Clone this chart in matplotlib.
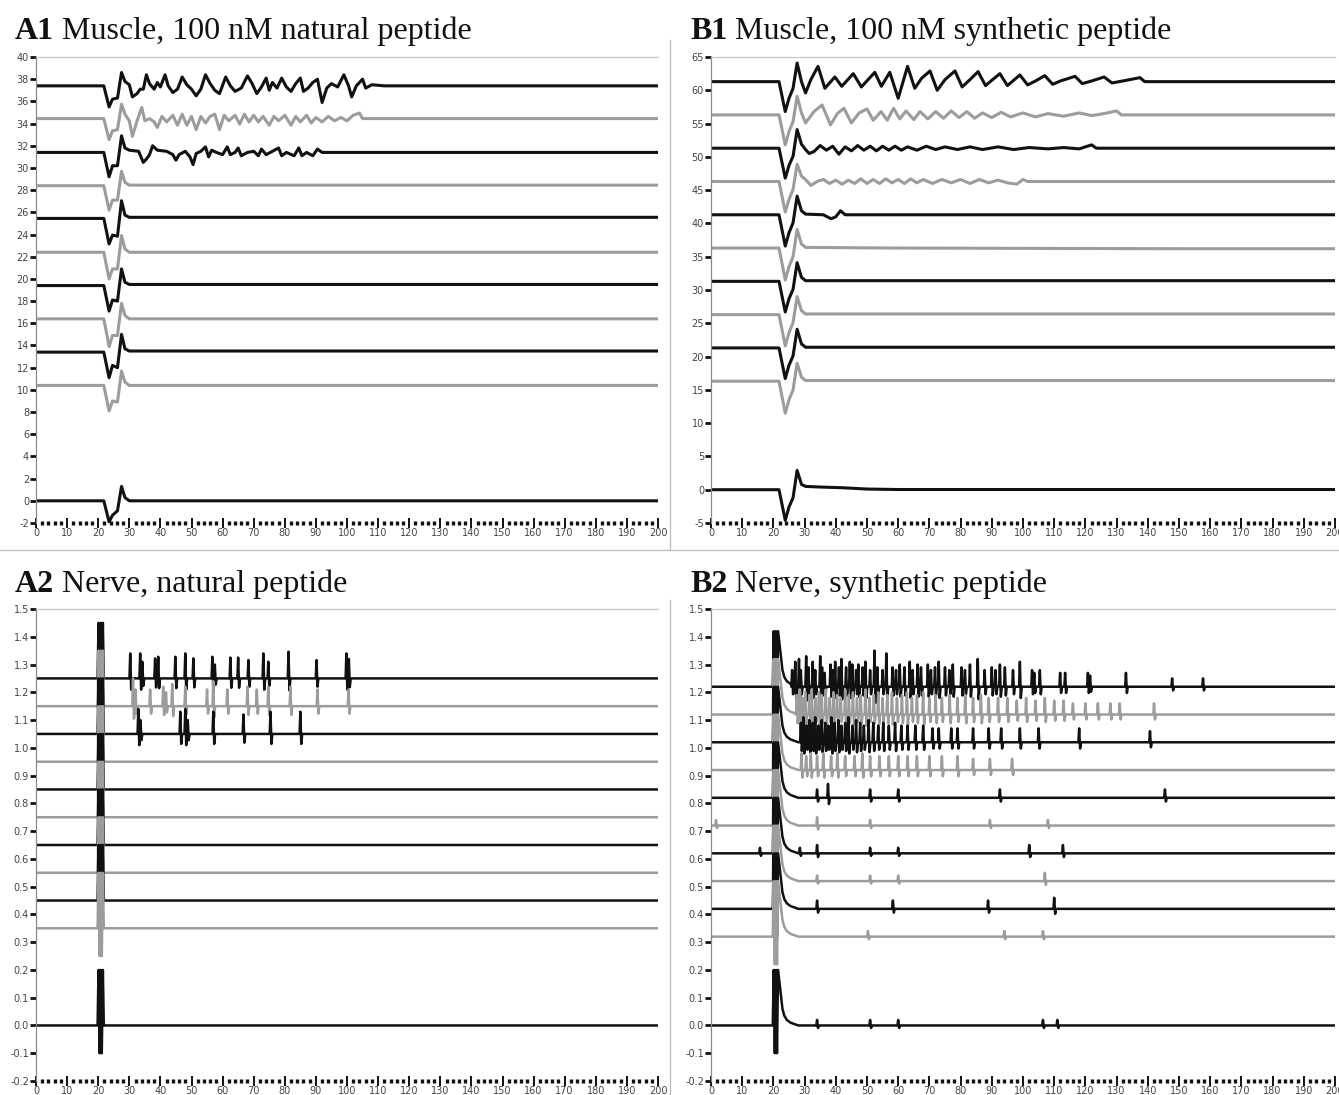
import matplotlib
matplotlib.use('Agg')
import matplotlib.pyplot as plt
from matplotlib.ticker import MultipleLocator, FormatStrFormatter
from matplotlib.lines import Line2D

plt.rcParams['axes.unicode_minus'] = False
plt.rcParams['font.family'] = ['DejaVu Sans']

BLACK = '#111111'
GREY = '#9c9c9c'

# ---------------- A1: muscle, natural peptide ----------------
a1_base = [37.4, 34.45, 31.4, 28.4, 25.45, 22.4, 19.4, 16.4, 13.4, 10.4, 0.0]
a1_evoked_t = [21.8, 23.5, 24.6, 26.2, 27.5, 28.6, 30.0]
a1_evoked = [
    [0, -1.9, -1.2, -1.1, 1.2, 0.4, 0.1],
    [0, -1.9, -1.1, -1.0, 1.3, 0.4, -0.2],
    [0, -2.2, -1.2, -1.2, 1.5, 0.4, 0.2],
    [0, -2.2, -1.3, -1.3, 1.3, 0.3, 0.05],
    [0, -2.3, -1.5, -1.6, 1.6, 0.3, 0.1],
    [0, -2.4, -1.5, -1.5, 1.5, 0.3, 0.0],
    [0, -2.3, -1.3, -1.4, 1.5, 0.3, 0.1],
    [0, -2.5, -1.5, -1.5, 1.4, 0.3, 0.0],
    [0, -2.3, -1.2, -1.4, 1.6, 0.3, 0.1],
    [0, -2.3, -1.4, -1.5, 1.3, 0.3, 0.0],
    [0, -1.9, -1.3, -0.9, 1.3, 0.3, 0.0],
]
a1_tail = [
    [(31, -1.0), (32.5, -0.7), (33.5, -0.3), (34.5, -0.3), (35.5, 1.0), (36.5, 0.2), (38, -0.3),
     (39, 0.3), (40, -0.1), (41.5, 1.0), (42.5, 0), (44, -0.6), (45.5, -0.3), (47, 0.8), (48.5, 0.1),
     (50, -0.3), (51.5, -0.9), (53, -0.3), (54.5, 1.0), (56, 0.2), (57.5, -0.4), (59, -0.7), (61, 0.8),
     (62.5, 0), (64, -0.5), (66, -0.2), (68, 0.9), (69.5, 0.2), (71, -0.7), (72.5, -0.1), (74, 0.7),
     (75, -0.4), (76, 0.3), (77.5, -0.2), (79, 0.7), (80.5, -0.1), (82, -0.5), (83.5, 0.2), (85, 0.7),
     (86, -0.5), (87.5, -0.2), (89, 0.3), (90.5, 0.6), (92, -1.5), (93.5, -0.2), (95, 0.2), (97, -0.1),
     (99, 1.0), (100.5, 0), (101.5, -1.0), (103, 0), (105, 0.6), (106, -0.2), (108, 0.1), (112, 0)],
    [(31, -1.6), (32.5, -0.2), (34, 1.0), (35, -0.2), (36.5, 0), (38, -0.3), (39, -0.8), (40.5, 0.2),
     (42, -0.3), (44, 0.3), (45.5, -0.6), (47, 0.4), (48.5, -0.6), (50, 0.2), (51.5, -1.0), (53, 0.2),
     (54.5, -0.4), (56, 0.2), (57.5, 0.4), (59, -1.0), (60.5, 0.3), (62, -0.2), (64, 0.3), (65.5, -0.5),
     (67, 0.4), (68.5, -0.3), (70, 0.3), (71.5, -0.3), (73, 0.2), (75, -0.6), (76.5, 0.2), (78, -0.2),
     (80, 0.3), (82, -0.6), (83.5, 0.2), (85, -0.3), (87, 0.3), (88.5, -0.4), (90, 0.1), (92, -0.3),
     (94, 0.2), (96, -0.2), (98, 0.1), (100, -0.2), (102, 0.3), (104, 0.5), (105, 0), (110, 0)],
    [(33, 0.1), (34.5, -0.9), (35.5, -0.6), (36.5, -0.2), (37.5, 0.6), (39, 0.2), (42, 0.1), (44, -0.2),
     (45, -0.7), (46, -0.2), (48, 0.1), (49.5, -0.4), (50.5, -1.1), (51.5, -0.1), (53, 0.1), (54.5, 0.5),
     (55.5, -0.4), (56.5, 0.2), (58, 0), (60, -0.2), (61.5, 0.5), (62.5, -0.2), (64, 0), (65, 0.4),
     (66, -0.3), (68, 0), (70, 0.1), (71.5, -0.3), (72.5, 0.3), (74, -0.2), (76, 0.1), (78, 0.4),
     (79, -0.3), (80.5, 0), (83, -0.3), (84.5, 0.4), (85.5, -0.3), (87, 0), (89, -0.3), (90.5, 0.3),
     (92, 0)],
    [], [], [], [], [], [], [], [],
]

# ---------------- B1: muscle, synthetic peptide ----------------
b1_base = [61.3, 56.3, 51.3, 46.3, 41.3, 36.3, 31.3, 26.3, 21.3, 16.3, 0.0]
b1_evoked_t = [21.8, 23.8, 25.0, 26.3, 27.6, 29.0, 30.3]
b1_evoked = [
    [0, -4.5, -2.5, -1.0, 2.8, 0.0, -1.7],
    [0, -4.5, -2.5, -1.0, 2.8, 0.3, -1.2],
    [0, -4.5, -2.6, -1.2, 2.8, 0.6, -0.2],
    [0, -4.6, -2.7, -1.2, 2.6, 0.8, 0.3],
    [0, -4.7, -2.7, -1.2, 2.8, 0.6, 0.1],
    [0, -4.8, -2.8, -1.3, 2.8, 0.6, 0.1],
    [0, -4.6, -2.6, -1.2, 2.8, 0.6, 0.1],
    [0, -4.7, -2.7, -1.2, 2.7, 0.6, 0.1],
    [0, -4.6, -2.6, -1.2, 2.8, 0.6, 0.1],
    [0, -4.8, -2.8, -1.3, 2.7, 0.6, 0.1],
    [0, -4.6, -2.6, -1.2, 2.9, 0.8, 0.5],
]
b1_tail = [
    [(32, 0.3), (34.3, 2.3), (36.5, -1.0), (39.7, 0.7), (41.9, -0.7), (45.6, 1.2), (48.2, -0.8),
     (52.5, 1.4), (54.6, -0.7), (57.3, 1.4), (60, -2.5), (63, 2.3), (65.3, -1.0), (67.5, 0.5),
     (70.2, 1.6), (72.5, -1.3), (75, 0.3), (78.2, 1.6), (80.5, -0.8), (83, 0.3), (85.6, 1.5),
     (88, -0.6), (90, 0.2), (92.6, 1.2), (95, -0.6), (97, 0.2), (99, 1.0), (101.5, -0.5), (104, 0.1),
     (107, 0.9), (109.5, -0.4), (112, 0.1), (116.7, 0.8), (119, -0.3), (122, 0.1), (126, 0.7),
     (128.5, -0.2), (132, 0.1), (137.5, 0.6), (139, 0), (145, 0)],
    [(33, 0.5), (35.6, 1.5), (38.3, -1.5), (40.5, 0.2), (42.6, 1.0), (45, -1.2), (47.5, 0.3),
     (50, 0.9), (52, -0.8), (54.5, 0.5), (56.5, -0.8), (58.5, 1.0), (60.5, -0.6), (62.5, 0.6),
     (65, -0.7), (67, 0.5), (69.5, -0.6), (72, 0.5), (74.5, -0.5), (77, 0.6), (79.5, -0.4),
     (82, 0.5), (84.5, -0.5), (87, 0.3), (90, -0.4), (93, 0.4), (96, -0.3), (100, 0.3),
     (104, -0.3), (108, 0.2), (113, -0.2), (118, 0.3), (122, -0.1), (126, 0.2), (130, 0.6),
     (131.5, 0), (140, 0)],
    [(31.5, -0.8), (33, -0.5), (35, 0.4), (37, -0.3), (39, 0.3), (41, -0.9), (43, 0.2), (45, -0.4),
     (47, 0.4), (49, -0.3), (51, 0.3), (53, -0.4), (55, 0.3), (57, -0.3), (59, 0.3), (61, -0.3),
     (63, 0.2), (66, -0.3), (69, 0.3), (72, -0.2), (75, 0.2), (79, -0.2), (83, 0.2), (87, -0.2),
     (92, 0.2), (97, -0.2), (102, 0.1), (108, -0.1), (113, 0.1), (118, -0.1), (122, 0.5),
     (123.5, 0), (130, 0)],
    [(32, -0.6), (34, 0.0), (36, 0.3), (38, -0.3), (40, 0.2), (42, -0.4), (44, 0.2), (46, -0.3),
     (48, 0.4), (50, -0.3), (52, 0.3), (54, -0.3), (56, 0.4), (58, -0.2), (60, 0.3), (62, -0.3),
     (64, 0.4), (66, -0.2), (68, 0.3), (71, -0.3), (74, 0.3), (77, -0.2), (80, 0.3), (83, -0.3),
     (86, 0.3), (89, -0.2), (92, 0.2), (95, -0.2), (98, -0.4), (100, 0.3), (101.5, 0), (110, 0)],
    [(36, 0), (38.5, -0.6), (40, -0.3), (41.5, 0.6), (43, 0), (50, 0)],
    [(60, 0), (150, -0.1)],
    [], [], [], [],
    [(35, 0.4), (42, 0.3), (50, 0.1), (60, 0.03)],
]

# ---------------- A2: nerve, natural peptide ----------------
a2_base = [1.25, 1.15, 1.05, 0.95, 0.85, 0.75, 0.65, 0.55, 0.45, 0.35, 0.0]
a2_spikes = [
    [(30.3, .09), (33.5, .09), (34.2, .06), (38.3, .072), (39.3, .078), (44.8, .078), (48, .09),
     (50.6, .072), (56.7, .078), (57.5, .05), (62.5, .075), (65, .075), (68.3, .066), (73.1, .09),
     (74.7, .06), (81.2, .096), (90.2, .066), (99.8, .09), (100.6, .07)],
    [(31.2, .1), (32.0, .06), (36.7, .06), (40.9, .07), (41.8, .05), (43.8, .08), (48, .07),
     (55, .06), (57, .09), (61.5, .06), (68, .07), (71, .06), (74.7, .07), (81.8, .07),
     (90.5, .06), (100.5, .06)],
    [(32.9, .09), (33.6, .05), (46.4, .08), (48, .09), (48.8, .05), (57, .08), (66.7, .07),
     (75.4, .08), (85, .08)],
    [], [], [], [], [], [], [], [],
]

# ---------------- B2: nerve, synthetic peptide ----------------
b2_base = [1.22, 1.12, 1.02, 0.92, 0.82, 0.72, 0.62, 0.52, 0.42, 0.32, 0.0]
b2_spikes = [
    [(26.0, .06), (27.0, .09), (28.2, .10), (28.8, .06), (30.5, .11), (31.2, .07), (32.6, .09),
     (33.4, .06), (35.0, .11), (35.6, .07), (36.4, .05), (38.3, .08), (39.0, .06), (39.8, .09),
     (41.0, .07), (41.8, .10), (43.3, .07), (44.5, .09), (45.3, .08), (46.5, .06), (47.2, .08),
     (48.6, .07), (49.5, .09), (51.0, .06), (52.4, .13), (53.3, .07), (55.0, .06), (56.2, .12),
     (58.2, .07), (59.3, .06), (60.5, .08), (62.0, .07), (63.7, .09), (64.6, .06), (66.2, .08),
     (67.3, .07), (69.5, .08), (70.5, .06), (71.8, .07), (73.0, .09), (75.0, .07), (76.4, .06),
     (77.5, .08), (80.3, .07), (81.4, .06), (83.0, .08), (85.5, .10), (87.7, .06), (90.0, .07),
     (91.2, .06), (92.6, .08), (94.2, .07), (96.8, .06), (99.0, .09), (102.9, .06), (103.6, .05),
     (105.4, .06), (111.9, .05), (113.5, .05), (120.8, .05), (121.5, .04), (133.0, .05),
     (147.8, .03), (157.7, .03)],
    [(27.5, .07), (28.5, .09), (29.3, .06), (30.2, .08), (31.5, .07), (32.3, .09), (33.5, .06),
     (34.6, .08), (35.5, .07), (36.8, .09), (38.0, .06), (39.2, .08), (40.4, .07), (41.6, .06),
     (43.0, .09), (44.2, .07), (45.5, .08), (46.8, .06), (48.0, .07), (49.5, .09), (50.8, .06),
     (52.2, .07), (53.6, .08), (55.0, .06), (56.5, .07), (58.0, .08), (59.6, .06), (61.2, .07),
     (62.8, .08), (64.4, .06), (66.0, .07), (68.0, .08), (70.0, .06), (72.0, .07), (74.0, .06),
     (76.5, .07), (79.0, .06), (81.5, .07), (84.0, .06), (86.5, .07), (89.0, .06), (92.0, .06),
     (95.0, .06), (98.0, .05), (101.0, .06), (104.0, .05), (107.0, .06), (110.0, .05), (113.0, .05),
     (116.0, .04), (120.0, .04), (124.0, .04), (128.0, .04), (131.0, .04), (142.0, .04)],
    [(28.8, .07), (29.6, .09), (30.6, .06), (31.5, .08), (32.6, .07), (33.4, .09), (34.4, .06),
     (35.5, .08), (36.6, .07), (37.6, .06), (38.6, .09), (39.6, .07), (40.8, .08), (41.8, .06),
     (43.0, .07), (44.0, .09), (45.3, .06), (46.5, .08), (47.8, .07), (49.0, .06), (50.5, .08),
     (52.0, .07), (53.6, .06), (55.2, .07), (57.0, .06), (59.0, .07), (61.0, .06), (63.0, .06),
     (65.5, .06), (68.0, .06), (71.0, .05), (73.0, .05), (77.0, .05), (79.0, .05), (84.0, .05),
     (89.0, .05), (93.0, .05), (99.0, .05), (105.0, .05), (118.0, .05), (140.7, .04)],
    [(29.0, .06), (30.5, .05), (32.0, .06), (34.0, .05), (36.0, .06), (38.5, .05), (40.5, .06),
     (43.0, .05), (46.0, .05), (48.5, .06), (51.0, .05), (54.0, .05), (57.0, .05), (60.0, .05),
     (63.0, .05), (66.0, .05), (70.0, .05), (74.0, .05), (79.0, .05), (84.0, .04), (89.4, .04),
     (96.5, .04)],
    [(34.0, .03), (37.5, .05), (51.0, .03), (60.0, .03), (92.6, .03), (145.5, .03)],
    [(1.6, .02), (34.0, .03), (51.0, .02), (89.4, .02), (108.0, .02)],
    [(15.7, .02), (28.5, .02), (34.0, .03), (51.0, .02), (60.0, .02), (102.0, .03), (112.8, .03)],
    [(34.0, .02), (51.0, .02), (60.0, .02), (107.0, .03)],
    [(34.0, .03), (58.3, .03), (88.8, .03), (110.0, .04)],
    [(50.3, .02), (94.0, .02), (106.4, .02)],
    [(34.0, .02), (51.0, .02), (60.0, .02), (106.4, .02), (111.0, .02)],
]

colors = [BLACK, GREY] * 5 + [BLACK]

# stimulus artifact of the nerve recordings (relative to baseline)
art_t = [19.8, 20.1, 20.45, 20.8, 21.15, 21.5, 21.8]
art_v = [0.0, 0.2, -0.1, 0.2, -0.1, 0.2, 0.0]
b2_decay_t = [22.3, 22.9, 23.5, 24.3, 25.5, 28.0]
b2_decay_v = [0.12, 0.06, 0.035, 0.02, 0.01, 0.0]


def muscle_trace(evoked_t, evoked_v, tail):
    t = [0] + evoked_t + [p[0] for p in tail]
    v = [0] + evoked_v + [p[1] for p in tail]
    t.append(200)
    v.append(v[-1])
    return t, v


def spike_pts(spikes):
    t, v = [], []
    for s, h in spikes:
        t += [s - 0.25, s, s + 0.3, s + 0.6]
        v += [0, h, -0.45 * h, 0]
    return t, v


def nerve_trace(spikes, decay):
    pre_t, pre_v = spike_pts([s for s in spikes if s[0] < art_t[0]])
    post_t, post_v = spike_pts([s for s in spikes if s[0] >= art_t[0]])
    t = [0] + pre_t + art_t[:-1]
    v = [0] + pre_v + art_v[:-1]
    if decay:
        t += b2_decay_t
        v += b2_decay_v
    else:
        t.append(art_t[-1])
        v.append(art_v[-1])
    return t + post_t + [200], v + post_v + [0]


def style_axes(ax, ylim, ystep, fmt):
    ax.set_xlim(0, 200)
    ax.set_ylim(*ylim)
    ax.spines['right'].set_visible(False)
    ax.spines['bottom'].set_visible(False)
    ax.spines['top'].set_color('#c8c8c8')
    ax.spines['top'].set_linewidth(0.9)
    ax.spines['left'].set_color('#8a8a8a')
    ax.spines['left'].set_linewidth(0.9)
    ax.xaxis.set_major_locator(MultipleLocator(10))
    ax.xaxis.set_minor_locator(MultipleLocator(2))
    ax.yaxis.set_major_locator(MultipleLocator(ystep))
    ax.yaxis.set_major_formatter(FormatStrFormatter(fmt))
    ax.tick_params(axis='y', direction='out', length=4, width=2, color=BLACK,
                   labelsize=7, labelcolor='#444444', pad=1)
    ax.tick_params(axis='x', which='major', direction='inout', length=7, width=1.4,
                   color=BLACK, labelsize=7, labelcolor='#444444', pad=0)
    ax.tick_params(axis='x', which='minor', direction='inout', length=3, width=2.4, color=BLACK)


def title(x, y, tag, text):
    t = fig.text(x, y, tag, fontsize=23, fontweight='bold', family='Liberation Serif',
                 va='baseline', color=BLACK)
    fig.text(0, 0, '')
    ann = plt.annotate(' ' + text, xy=(1, 0), xycoords=t, va='bottom', fontsize=23,
                       family='Liberation Serif', color=BLACK, annotation_clip=False)
    return ann


W, H = 1339, 1095
fig = plt.figure(figsize=(W / 100, H / 100), dpi=100)
axA1 = fig.add_axes([36 / W, 1 - 523 / H, 622 / W, 466 / H])
axB1 = fig.add_axes([711 / W, 1 - 523 / H, 624 / W, 466 / H])
axA2 = fig.add_axes([36 / W, 1 - 1081 / H, 622 / W, 472 / H])
axB2 = fig.add_axes([711 / W, 1 - 1081 / H, 624 / W, 472 / H])

for i in range(11):
    t, v = muscle_trace(a1_evoked_t, a1_evoked[i], a1_tail[i])
    axA1.plot(t, [a1_base[i] + x for x in v], color=colors[i], lw=2.2, solid_joinstyle='round')
    t, v = muscle_trace(b1_evoked_t, b1_evoked[i], b1_tail[i])
    axB1.plot(t, [b1_base[i] + x for x in v], color=colors[i], lw=2.2, solid_joinstyle='round')
    t, v = nerve_trace(a2_spikes[i], False)
    axA2.plot(t, [a2_base[i] + x for x in v], color=colors[i], lw=1.8)
    t, v = nerve_trace(b2_spikes[i], True)
    axB2.plot(t, [b2_base[i] + x for x in v], color=colors[i], lw=1.8)

style_axes(axA1, (-2, 40), 2, '%d')
style_axes(axB1, (-5, 65), 5, '%d')
style_axes(axA2, (-0.2, 1.5), 0.1, '%.1f')
style_axes(axB2, (-0.2, 1.5), 0.1, '%.1f')

# panel separators
sep = '#bdbdbd'
fig.add_artist(Line2D([670 / W, 670 / W], [1 - 40 / H, 1 - 550 / H], color=sep, lw=0.9))
fig.add_artist(Line2D([0, 1], [1 - 550 / H, 1 - 550 / H], color=sep, lw=0.9))
fig.add_artist(Line2D([670 / W, 670 / W], [1 - 600 / H, 0], color=sep, lw=0.9))

title(15 / W, 1 - 39 / H, 'A1', 'Muscle, 100 nM natural peptide')
title(690 / W, 1 - 39 / H, 'B1', 'Muscle, 100 nM synthetic peptide')
title(15 / W, 1 - 592 / H, 'A2', 'Nerve, natural peptide')
title(690 / W, 1 - 592 / H, 'B2', 'Nerve, synthetic peptide')

fig.savefig('out.png', dpi=100, facecolor='white')
